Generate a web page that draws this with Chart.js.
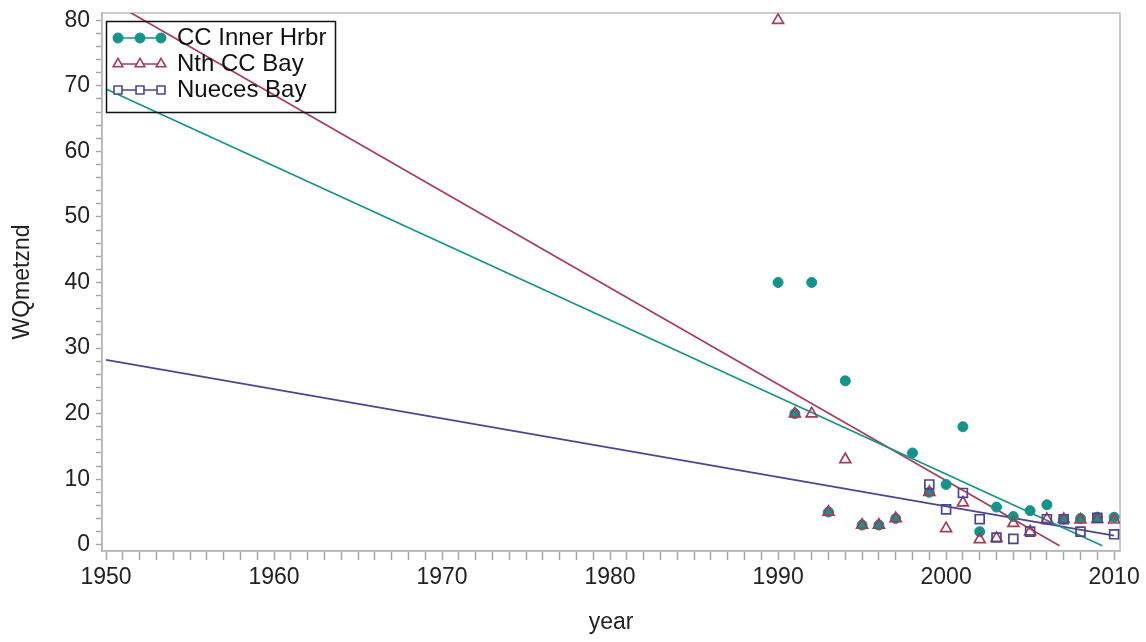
<!DOCTYPE html>
<html>
<head>
<meta charset="utf-8">
<title>WQmetznd by year</title>
<script src="https://cdn.jsdelivr.net/npm/chart.js@4.4.1/dist/chart.umd.min.js"></script>
<style>
  html, body { margin: 0; padding: 0; background: #fff; }
  #wrap { width: 1146px; height: 642px; }
</style>
</head>
<body>
<div id="wrap"><canvas id="chart" width="1146" height="642"></canvas></div>
<script>
// observed values, one per year (null = no sample)
const years = [1990, 1991, 1992, 1993, 1994, 1995, 1996, 1997, 1998, 1999, 2000,
               2001, 2002, 2003, 2004, 2005, 2006, 2007, 2008, 2009, 2010];
const ccInner = [40, 20, 40, 5, 25, 3, 3, 4, 14, 8, 9.2,
                 18, 2, 5.75, 4.3, 5.2, 6.1, 3.9, 4.0, 4.2, 4.2];
const nthCCBay = [80, 20, 20, 5, 13, 3, 3, 4, null, 8, 2.5,
                  6.4, 0.8, 1, 3.3, 2, 3.9, 3.9, 3.8, 3.9, 3.8];
const nuecesBay = [null, null, null, null, null, null, null, null, null, 9.2, 5.4,
                   7.9, 3.9, 1.1, 0.9, 2, 3.9, 3.9, 2, 4.1, 1.6];

// fitted regression lines (end points)
const ccFitYears = [1950, 2009.3];
const ccFitVals = [69.5, -0.15];
const nthFitYears = [1950, 2006.75];
const nthFitVals = [83.3, -0.15];
const nuecesFitYears = [1950, 2010];
const nuecesFitVals = [28.2, 1.4];

const seriesNames = ['CC Inner Hrbr', 'Nth CC Bay', 'Nueces Bay'];
const colors = ['#13948a', '#a63d56', '#4a4693'];
const markers = ['circle', 'triangle', 'rect'];

const FONT = '"Liberation Sans", Arial, sans-serif';
const AXIS_GRAY = '#a4a8ac';

function pts(xs, ys) {
  const out = [];
  xs.forEach((x, i) => { if (ys[i] !== null) out.push({ x: x, y: ys[i] }); });
  return out;
}

function scatterSet(i, data, order) {
  return {
    type: 'scatter', label: seriesNames[i], data: data, order: order,
    pointStyle: markers[i],
    pointRadius: i === 0 ? 5 : 6.3,
    pointBackgroundColor: i === 0 ? colors[i] : 'rgba(255,255,255,0)',
    pointBorderColor: colors[i],
    pointBorderWidth: i === 0 ? 1 : 1.7,
    showLine: false
  };
}

function fitSet(i, xs, ys) {
  return {
    type: 'line', label: seriesNames[i] + ' fit', data: pts(xs, ys), order: 5,
    borderColor: colors[i], borderWidth: 1.7, pointRadius: 0, fill: false, tension: 0
  };
}

// frame round the plot area
const framePlugin = {
  id: 'frame',
  beforeDatasetsDraw(chart) {
    const { ctx, chartArea: a } = chart;
    ctx.save();
    ctx.strokeStyle = '#b8bcc0';
    ctx.lineWidth = 1.5;
    ctx.strokeRect(a.left, a.top, a.right - a.left, a.bottom - a.top);
    ctx.restore();
  }
};

// SAS-like legend box inside the plot, line with three markers per entry
const legendPlugin = {
  id: 'boxLegend',
  afterDraw(chart) {
    const ctx = chart.ctx;
    const bx = 106.5, by = 21.5, bw = 229, bh = 91;
    ctx.save();
    ctx.strokeStyle = '#111';
    ctx.lineWidth = 1.5;
    ctx.strokeRect(bx, by, bw, bh);
    const rows = [38, 64, 90];
    rows.forEach((ry, i) => {
      ctx.strokeStyle = colors[i];
      ctx.lineWidth = 1.7;
      ctx.beginPath();
      ctx.moveTo(115, ry);
      ctx.lineTo(165, ry);
      ctx.stroke();
      [118, 140, 161].forEach(mx => {
        ctx.fillStyle = i === 0 ? colors[i] : '#fff';
        ctx.strokeStyle = colors[i];
        ctx.lineWidth = i === 0 ? 1 : 1.6;
        Chart.helpers.drawPoint(ctx, {
          pointStyle: markers[i],
          radius: i === 0 ? 5 : 5.6,
          borderWidth: i === 0 ? 1 : 1.6
        }, mx, ry);
      });
      ctx.fillStyle = '#111';
      ctx.font = '24px ' + FONT;
      ctx.textBaseline = 'middle';
      ctx.textAlign = 'left';
      ctx.fillText(seriesNames[i], 177, ry);
    });
    ctx.restore();
  }
};

const ctx = document.getElementById('chart').getContext('2d');
new Chart(ctx, {
  data: {
    datasets: [
      scatterSet(2, pts(years, nuecesBay), 0),
      scatterSet(1, pts(years, nthCCBay), 1),
      scatterSet(0, pts(years, ccInner), 2),
      fitSet(0, ccFitYears, ccFitVals),
      fitSet(1, nthFitYears, nthFitVals),
      fitSet(2, nuecesFitYears, nuecesFitVals)
    ]
  },
  options: {
    responsive: false,
    animation: false,
    layout: { padding: { left: 0, right: 26, top: 13, bottom: 0 } },
    plugins: { legend: { display: false }, tooltip: { enabled: false } },
    scales: {
      x: {
        type: 'linear', position: 'bottom',
        min: 1949.76, max: 2010.35,
        afterFit: s => { s.height = 91; s.paddingLeft = 0; s.paddingRight = 0; },
        border: { color: AXIS_GRAY, width: 1.5 },
        grid: { drawOnChartArea: false, tickLength: 9, color: AXIS_GRAY, tickWidth: 1.5 },
        ticks: {
          stepSize: 1, includeBounds: false, autoSkip: false, maxRotation: 0, padding: 4,
          color: '#222', font: { family: FONT, size: 23 },
          callback: v => (Math.abs(v % 10) < 1e-6 ? String(Math.round(v)) : '')
        },
        title: { display: true, text: 'year', color: '#222',
                 font: { family: FONT, size: 23 }, padding: { top: 0, bottom: 6 } }
      },
      y: {
        type: 'linear', position: 'left',
        min: -0.95, max: 81.1,
        afterFit: s => { s.width = 102; s.paddingTop = 0; s.paddingBottom = 0; },
        border: { color: AXIS_GRAY, width: 1.5 },
        grid: { drawOnChartArea: false, tickLength: 6, color: AXIS_GRAY, tickWidth: 1.5 },
        ticks: {
          stepSize: 2, includeBounds: false, autoSkip: false, padding: 6,
          color: '#222', font: { family: FONT, size: 23 },
          callback: v => (Math.abs(Math.round(v) - v) < 1e-6 && Math.round(v) % 10 === 0 ? String(Math.round(v)) : '')
        },
        title: { display: true, text: 'WQmetznd', color: '#222',
                 font: { family: FONT, size: 23 }, padding: { top: 9, bottom: 0 } }
      }
    }
  },
  plugins: [framePlugin, legendPlugin]
});
</script>
</body>
</html>
